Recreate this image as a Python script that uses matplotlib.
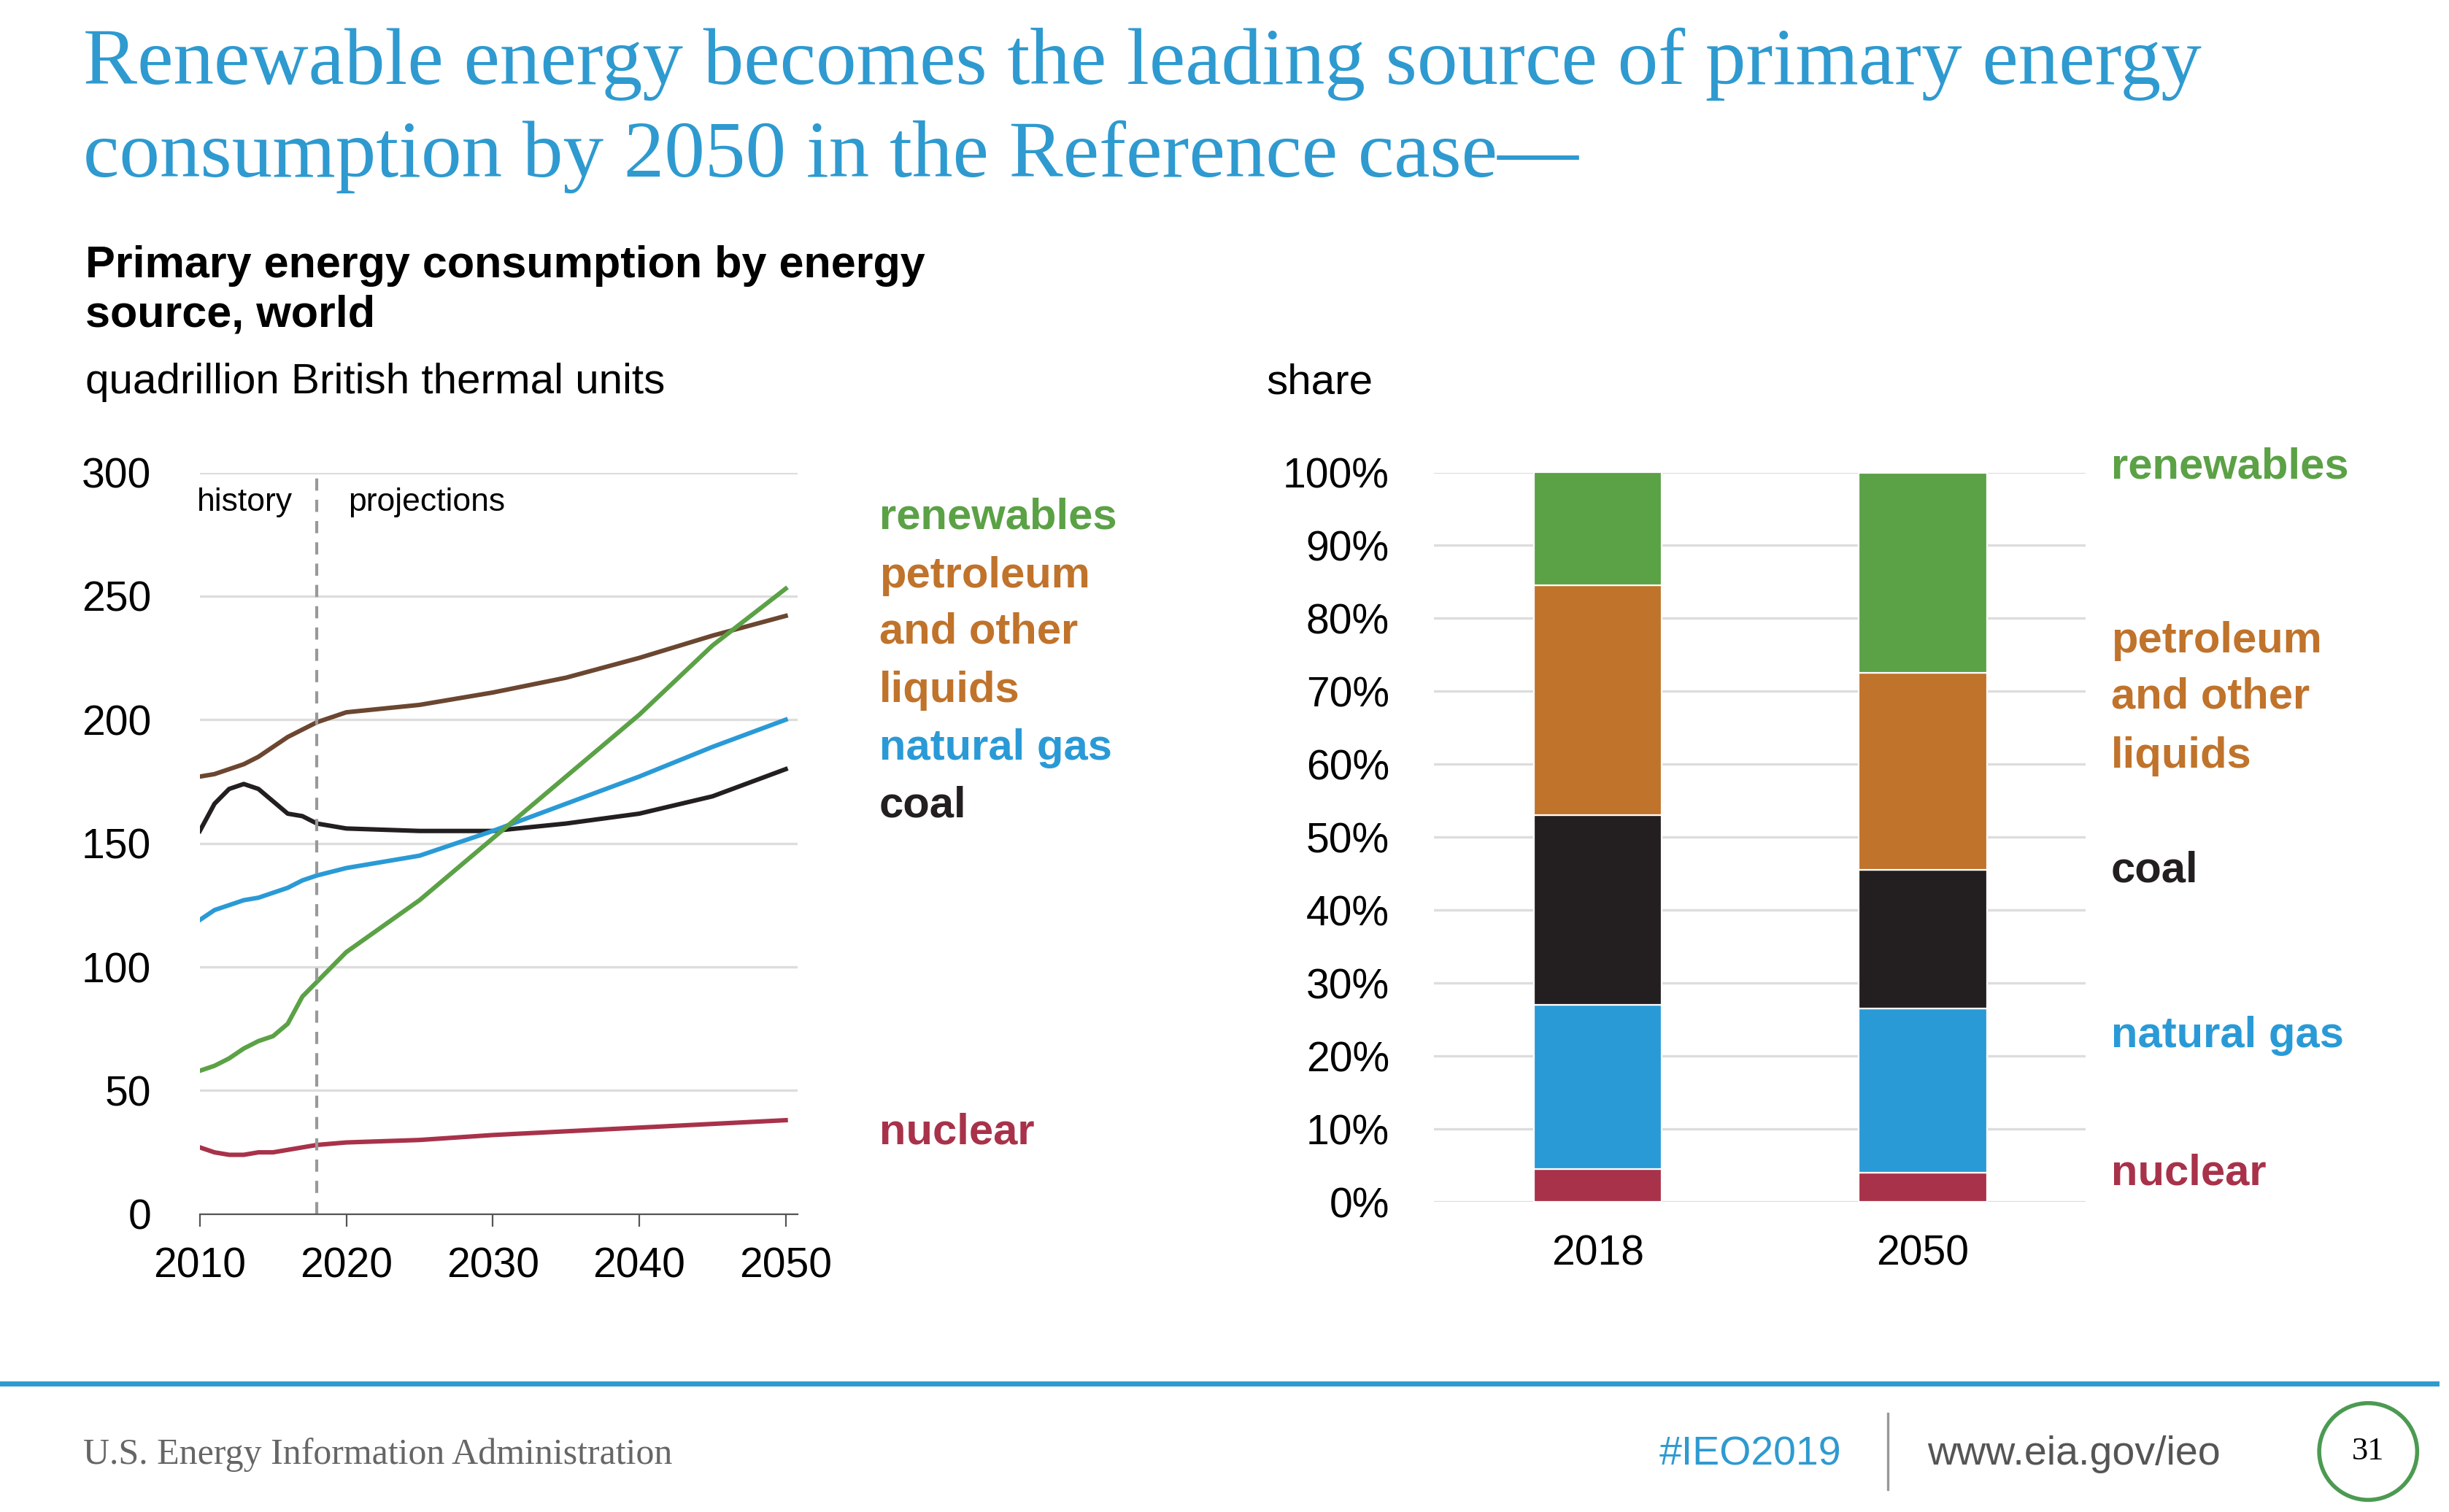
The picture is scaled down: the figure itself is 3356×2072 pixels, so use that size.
import matplotlib.pyplot as plt
import matplotlib.patches as mpatches
import numpy as np

# ── Data ──
years = [2010, 2011, 2012, 2013, 2014, 2015, 2016, 2017, 2018,
         2020, 2025, 2030, 2035, 2040, 2045, 2050]
petroleum = [177, 178, 180, 182, 185, 189, 193, 196, 199, 203, 206, 211, 217, 225, 234, 242]
coal = [155, 166, 172, 174, 172, 167, 162, 161, 158, 156, 155, 155, 158, 162, 169, 180]
natural_gas = [119, 123, 125, 127, 128, 130, 132, 135, 137, 140, 145, 155, 166, 177, 189, 200]
renewables = [58, 60, 63, 67, 70, 72, 77, 88, 94, 106, 127, 152, 177, 202, 230, 253]
nuclear = [27, 25, 24, 24, 25, 25, 26, 27, 28, 29, 30, 32, 33.5, 35, 36.5, 38]

share_years = ['2018', '2050']
share_nuclear = [4.5, 4.0]
share_gas = [22.5, 22.5]
share_coal = [26.0, 19.0]
share_petroleum = [31.5, 27.0]
share_renewables = [15.5, 27.5]

GREEN = '#5BA146'
ORANGE = '#C0732B'
BROWN = '#6B4630'
BLUE = '#2A9AD6'
BLACK = '#231F20'
RED = '#A8324A'
TITLE_BLUE = '#2E9AD0'

plt.rcParams['font.family'] = ['Liberation Sans', 'DejaVu Sans']
fig = plt.figure(figsize=(16.78, 10.36), dpi=200)

# ── Title ──
fig.text(0.034, 0.982, 'Renewable energy becomes the leading source of primary energy\nconsumption by 2050 in the Reference case\u2014',
         family='Liberation Serif', fontsize=40, color=TITLE_BLUE, va='top', linespacing=1.35)

fig.text(0.035, 0.838, 'Primary energy consumption by energy\nsource, world', fontsize=22,
         fontweight='bold', va='top', linespacing=1.25)
fig.text(0.035, 0.76, 'quadrillion British thermal units', fontsize=21, va='top')
fig.text(0.517, 0.76, 'share', fontsize=21, va='top')

# ── Left: lines ──
ax = fig.add_axes([0.0816, 0.197, 0.244, 0.4905])
ax.plot(years, petroleum, color=BROWN, lw=2.2)
ax.plot(years, coal, color=BLACK, lw=2.2)
ax.plot(years, natural_gas, color=BLUE, lw=2.2)
ax.plot(years, renewables, color=GREEN, lw=2.2)
ax.plot(years, nuclear, color=RED, lw=2.2)
ax.axvline(2018, color='#999999', ls=(0, (4, 3)), lw=1.5)
ax.set_xlim(2010, 2050.8)
ax.set_ylim(0, 300)
ax.set_yticks(range(0, 301, 50))
ax.set_xticks(range(2010, 2051, 10))
ax.yaxis.grid(True, color='#DDDDDD', lw=1.2)
ax.set_axisbelow(True)
for s in ['top', 'right', 'left']:
    ax.spines[s].set_visible(False)
ax.spines['bottom'].set_color('#555555')
ax.tick_params(axis='y', length=0, labelsize=20.5, pad=24)
ax.tick_params(axis='x', labelsize=20.5, length=6, color='#555555', pad=10)
ax.text(2009.8, 294, 'history', ha='left', va='top', fontsize=16)
ax.text(2025.5, 294, 'projections', ha='center', va='top', fontsize=16)

lx = 0.359
for y, txt, c in [(0.658, 'renewables', GREEN), (0.619, 'petroleum', ORANGE),
                  (0.582, 'and other', ORANGE), (0.543, 'liquids', ORANGE),
                  (0.505, 'natural gas', BLUE), (0.467, 'coal', BLACK),
                  (0.251, 'nuclear', RED)]:
    fig.text(lx, y, txt, color=c, fontsize=21.5, fontweight='bold', va='center')

# ── Right: stacked bars ──
bx = fig.add_axes([0.5855, 0.205, 0.266, 0.4825])
x = np.arange(len(share_years))
bottom = np.zeros(2)
for vals, c in [(share_nuclear, RED), (share_gas, BLUE), (share_coal, BLACK),
                (share_petroleum, ORANGE), (share_renewables, GREEN)]:
    bx.bar(x, vals, bottom=bottom, width=0.394, color=c, edgecolor='white', linewidth=0.8)
    bottom += np.array(vals)
bx.set_xlim(-0.505, 1.5)
bx.set_ylim(0, 100)
bx.set_yticks(range(0, 101, 10))
bx.set_yticklabels([f'{v}%' for v in range(0, 101, 10)])
bx.set_xticks(x)
bx.set_xticklabels(share_years)
bx.yaxis.grid(True, color='#DDDDDD', lw=1.2)
bx.set_axisbelow(True)
for s in bx.spines.values():
    s.set_visible(False)
bx.tick_params(axis='y', length=0, labelsize=20.5, pad=22)
bx.tick_params(axis='x', length=0, labelsize=20.5, pad=16)

rx = 0.862
for y, txt, c in [(0.691, 'renewables', GREEN), (0.576, 'petroleum', ORANGE),
                  (0.539, 'and other', ORANGE), (0.5, 'liquids', ORANGE),
                  (0.424, 'coal', BLACK), (0.315, 'natural gas', BLUE),
                  (0.224, 'nuclear', RED)]:
    fig.text(rx, y, txt, color=c, fontsize=21.5, fontweight='bold', va='center')

# ── Footer ──
fig.add_artist(plt.Line2D([0, 0.995], [0.085, 0.085], color=TITLE_BLUE, lw=2.5))
fig.text(0.034, 0.038, 'U.S. Energy Information Administration', family='Liberation Serif',
         fontsize=18, color='#666666', va='center')
fig.text(0.752, 0.038, '#IEO2019', fontsize=20, color=TITLE_BLUE, va='center', ha='right')
fig.add_artist(plt.Line2D([0.771, 0.771], [0.015, 0.065], color='#999999', lw=1.2))
fig.text(0.787, 0.038, 'www.eia.gov/ieo', fontsize=20, color='#555555', va='center')
fig.add_artist(mpatches.Ellipse((0.967, 0.04), 0.04, 0.064, fill=False, edgecolor='#4C9A52', lw=2))
fig.text(0.967, 0.04, '31', family='Liberation Serif', fontsize=16, ha='center', va='center')

fig.savefig('out.png', dpi=200)
